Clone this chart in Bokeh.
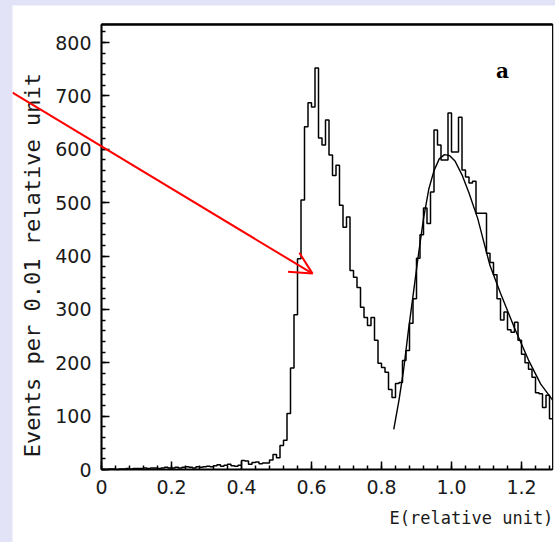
import numpy as np
from bokeh.plotting import figure
from bokeh.models import (Range1d, Label, Arrow, OpenHead, FixedTicker, Spacer,
                          GlobalInlineStyleSheet, LinearAxis, BoxAnnotation)
from bokeh.layouts import row, column
from bokeh.embed import file_html
from bokeh.resources import INLINE

# ---------------- data ----------------
bin_width = 0.01
counts = [
    0, 0, 1, 1, 0, 1, 1, 2, 1, 2,                       # 0.00-0.09
    2, 2, 3, 2, 3, 3, 2, 3, 4, 3,                       # 0.10-0.19
    3, 4, 3, 4, 5, 4, 3, 5, 4, 5,                       # 0.20-0.29
    6, 5, 7, 9, 6, 8, 10, 7, 6, 8,                      # 0.30-0.39
    17, 16, 10, 13, 14, 11, 12, 12, 18, 28,             # 0.40-0.49
    22, 45, 55, 105, 190, 290, 395, 505, 642, 687,      # 0.50-0.59
    679, 752, 621, 608, 655, 589, 551, 570, 495, 454,   # 0.60-0.69
    473, 373, 360, 341, 304, 285, 270, 285, 242, 199,   # 0.70-0.79
    191, 182, 150, 135, 161, 163, 204, 223, 274, 320,   # 0.80-0.89
    396, 440, 490, 461, 520, 636, 608, 580, 580, 668,   # 0.90-0.99
    595, 595, 660, 561, 548, 537, 540, 480, 480, 480,   # 1.00-1.09
    405, 388, 365, 320, 280, 295, 262, 257, 276, 242,   # 1.10-1.19
    216, 200, 188, 173, 144, 142, 116, 139, 95,         # 1.20-1.28
]

fit_x = [0.835, 0.85, 0.863, 0.877, 0.891, 0.905, 0.92, 0.935, 0.95, 0.965,
         0.98, 0.995, 1.01, 1.03, 1.05, 1.075, 1.09, 1.11, 1.14, 1.18,
         1.22, 1.255, 1.289]
fit_y = [75, 130, 186, 261, 330, 400, 470, 525, 560, 582,
         590, 588, 578, 552, 518, 470, 432, 382, 330, 265,
         205, 160, 130]

x_ticks = [0, 0.2, 0.4, 0.6, 0.8, 1.0, 1.2]
x_tick_labels = ["0", "0.2", "0.4", "0.6", "0.8", "1.0", "1.2"]
y_ticks = [0, 100, 200, 300, 400, 500, 600, 700, 800]
x_max = 1.289
y_max = 834

# ---------------- figure (frame covers whole canvas) ----------------
W, H = 543, 537
px_per_x = 350.0
px_per_y = 0.53375
x0 = -89 / px_per_x
y0 = -(H - 464) / px_per_y
p = figure(width=W, height=H, output_backend="svg", toolbar_location=None,
           x_range=Range1d(x0, x0 + W / px_per_x),
           y_range=Range1d(y0, y0 + H / px_per_y),
           x_axis_location=None, y_axis_location=None,
           min_border=0, min_border_left=0, min_border_right=0,
           min_border_top=0, min_border_bottom=0)
p.background_fill_color = "white"
p.border_fill_color = "white"
p.outline_line_color = None
p.xgrid.visible = False
p.ygrid.visible = False

# plot box (thin right edge)
p.add_layout(BoxAnnotation(left=0, right=x_max, bottom=0, top=y_max,
                           fill_alpha=0, line_color="black", line_alpha=1.0, line_width=1.2))

edges = [i * bin_width for i in range(len(counts) + 1)]
p.step(x=edges, y=counts + [counts[-1]], mode="after", line_color="black", line_width=1.5)
p.line(x=fit_x, y=fit_y, line_color="black", line_width=1.4)

xaxis = LinearAxis(fixed_location=0, bounds=(0, x_max))
yaxis = LinearAxis(fixed_location=0, bounds=(0, y_max))
p.add_layout(xaxis, "below")
p.add_layout(yaxis, "left")

for ax in (xaxis, yaxis):
    ax.axis_line_color = "black"
    ax.axis_line_width = 2
    ax.major_tick_in = 8
    ax.major_tick_out = 0
    ax.minor_tick_in = 4
    ax.minor_tick_out = 0
    ax.major_tick_line_width = 1.5
    ax.minor_tick_line_width = 1.5
    ax.major_label_text_font = "DejaVu Sans"
    ax.major_label_text_font_size = "19px"
    ax.major_label_text_color = "#1a1a1a"
    ax.major_label_standoff = 10

xaxis.ticker = FixedTicker(ticks=x_ticks, minor_ticks=[i * 0.04 for i in range(33)])
xaxis.major_label_overrides = {t: l for t, l in zip(x_ticks, x_tick_labels)}
yaxis.ticker = FixedTicker(ticks=y_ticks, minor_ticks=[i * 20 for i in range(42)])

# thick top frame edge
topaxis = LinearAxis(fixed_location=y_max, bounds=(0, x_max))
p.add_layout(topaxis, "above")
topaxis.axis_line_color = "black"
topaxis.axis_line_width = 2.5
topaxis.major_tick_line_color = None
topaxis.minor_tick_line_color = None
topaxis.major_label_text_font_size = "0px"
topaxis.major_label_text_color = None

p.add_layout(Label(x=-0.197, y=383, text="Events per 0.01 relative unit", angle=np.pi / 2,
                   text_align="center", text_baseline="middle",
                   text_font="DejaVu Sans Mono", text_font_size="22px", text_color="#1a1a1a"))
p.add_layout(Label(x=1.291, y=-90, text="E(relative unit)",
                   text_align="right", text_baseline="middle",
                   text_font="DejaVu Sans Mono", text_font_size="17px", text_color="#1a1a1a"))
p.add_layout(Label(x=1.146, y=747, text="a", text_align="center", text_baseline="middle",
                   text_font="DejaVu Serif", text_font_style="bold",
                   text_font_size="20px", text_color="black"))

p.add_layout(Arrow(x_start=x0, y_start=706, x_end=0.603, y_end=367,
                   line_color="red", line_width=2,
                   end=OpenHead(size=22, line_color="red", line_width=2)))

layout = column(Spacer(width=555, height=5),
                row(Spacer(width=12, height=H), p, spacing=0), spacing=0)
layout.stylesheets = [GlobalInlineStyleSheet(css="body { background: #e3e3f8; }")]

open("out.html", "w").write(file_html(layout, INLINE))
